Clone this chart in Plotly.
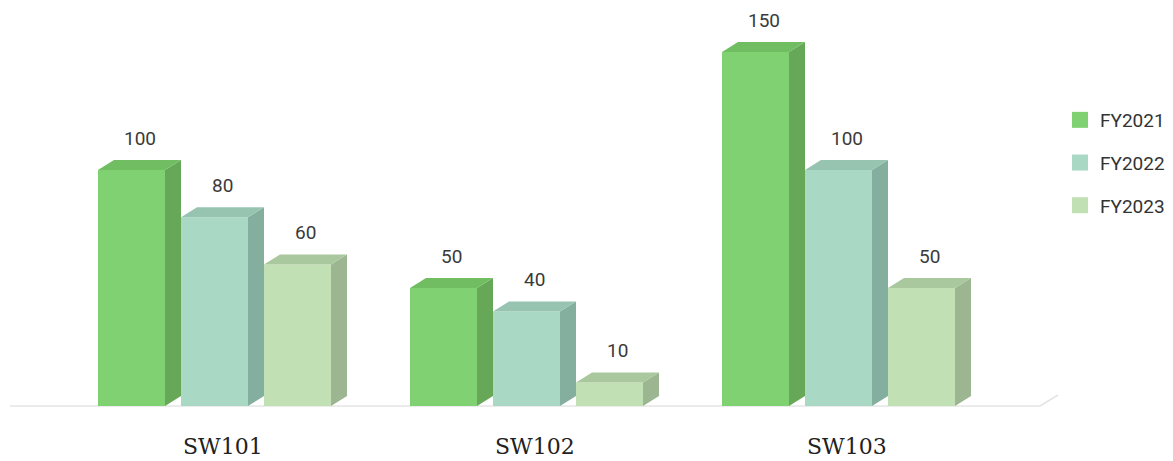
import plotly.graph_objects as go

categories = ["SW101", "SW102", "SW103"]
series_names = ["FY2021", "FY2022", "FY2023"]
fy2021 = [100, 50, 150]
fy2022 = [80, 40, 100]
fy2023 = [60, 10, 50]
series_values = [fy2021, fy2022, fy2023]

front_colors = ["#80d172", "#a9d9c5", "#c1e0b4"]
side_colors = ["#66a857", "#84ae9e", "#9bb690"]
top_colors = ["#70bd62", "#96c4b0", "#a9c89d"]

# geometry (in axis units)
PXX = 312.0          # px per category
PXY = 2.36           # px per value unit
W = 67 / PXX         # front width
STEP = 83 / PXX      # distance between bars in group
DX = 16 / PXX        # depth horizontal
DY = 10 / PXY        # depth vertical
LEFT0 = -124.5 / PXX # first bar left relative to category centre

fig = go.Figure()

for j, (name, vals) in enumerate(zip(series_names, series_values)):
    lefts = [i + LEFT0 + j * STEP for i in range(len(categories))]
    # front faces as bars
    fig.add_trace(go.Bar(
        x=[l + W / 2 for l in lefts], y=vals, width=W, base=0,
        marker=dict(color=front_colors[j], line=dict(width=0)),
        name=name, showlegend=False, hoverinfo="skip"))
    # side & top faces
    for l, v in zip(lefts, vals):
        r = l + W
        fig.add_trace(go.Scatter(
            x=[r, r + DX, r + DX, r, r], y=[0, DY, v + DY, v, 0],
            fill="toself", fillcolor=side_colors[j], mode="lines",
            line=dict(width=0, color=side_colors[j]), showlegend=False, hoverinfo="skip"))
        fig.add_trace(go.Scatter(
            x=[l, l + DX, r + DX, r, l], y=[v, v + DY, v + DY, v, v],
            fill="toself", fillcolor=top_colors[j], mode="lines",
            line=dict(width=0, color=top_colors[j]), showlegend=False, hoverinfo="skip"))
        fig.add_annotation(x=l + (W + DX) / 2, y=v + DY, text=str(v), showarrow=False,
                           yshift=22, font=dict(family="Roboto", size=19, color="#3a3a3a"))
    # legend entry
    fig.add_trace(go.Scatter(
        x=[None], y=[None], mode="markers", name=name, legendgroup=name,
        marker=dict(symbol="square", size=16, color=front_colors[j])))

for i, c in enumerate(categories):
    fig.add_annotation(x=i, y=0, text=c, showarrow=False, yshift=-40,
                       font=dict(family="DejaVu Serif", size=22, color="#222222"))

# floor
x_floor_l = (10 - 222.5) / PXX
x_floor_r = (1040 - 222.5) / PXX
fig.add_shape(type="line", x0=x_floor_l, x1=x_floor_r, y0=0, y1=0,
              line=dict(color="#e4e4e4", width=1.5), layer="below")
fig.add_shape(type="line", x0=x_floor_r, x1=x_floor_r + 18 / PXX, y0=0, y1=11 / PXY,
              line=dict(color="#e4e4e4", width=1.5), layer="below")

fig.update_layout(
    width=1173, height=461,
    margin=dict(l=0, r=0, t=0, b=0),
    paper_bgcolor="white", plot_bgcolor="white",
    barmode="overlay",
    xaxis=dict(range=[-222.5 / PXX, (1173 - 222.5) / PXX], visible=False, fixedrange=True),
    yaxis=dict(range=[-(461 - 406) / PXY, 406 / PXY], visible=False, fixedrange=True),
    legend=dict(x=1060 / 1173, y=1 - 101 / 461, xanchor="left", yanchor="top",
                font=dict(family="Roboto", size=19, color="#333333"),
                tracegroupgap=15, bgcolor="rgba(0,0,0,0)"),
)

fig.write_html("out.html")
